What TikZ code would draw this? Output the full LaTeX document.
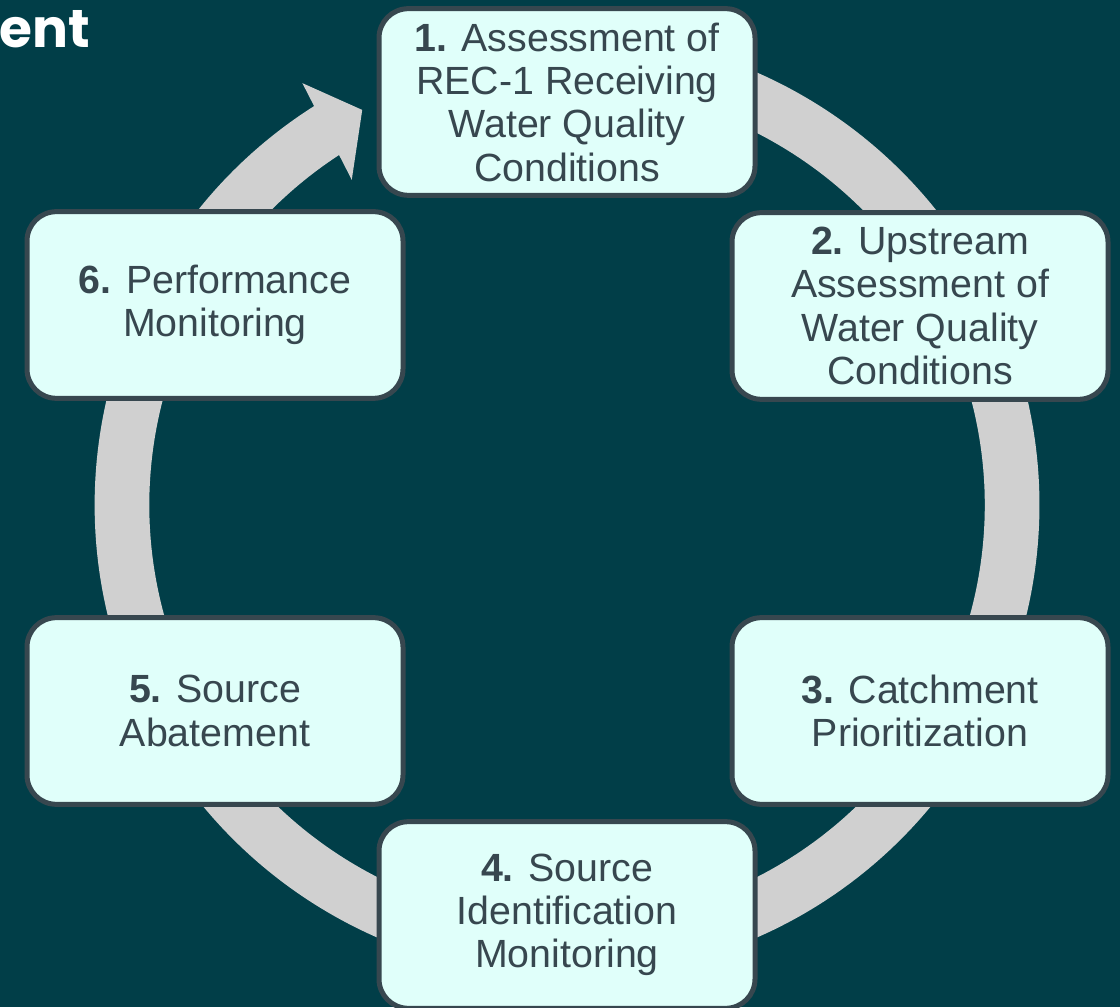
\documentclass[tikz,border=0pt]{standalone}
\usepackage{fontspec}
\setmainfont{Liberation Sans}
\newfontfamily\titlefont{Poppins}
\definecolor{bgteal}{RGB}{1,62,72}
\definecolor{ringgrey}{RGB}{208,208,208}
\definecolor{boxfill}{RGB}{224,255,250}
\definecolor{boxline}{RGB}{55,71,79}
\begin{document}
\begin{tikzpicture}[x=0.75pt,y=0.75pt,
    stage/.style={draw=boxline, line width=3.75pt, fill=boxfill, rounded corners=22pt,
        minimum width=282pt, minimum height=140pt, align=center, text=boxline,
        font=\fontsize{29.5}{32.5}\selectfont},
    ring/.style={draw=ringgrey, line width=41pt}]
    \useasboundingbox (0,0) rectangle (1120,1007);
    \fill [bgteal] (0,0) rectangle (1120,1007);
    \node [anchor=base east, inner sep=0pt, text=white, font=\titlefont\bfseries\fontsize{40}{42}\selectfont] (title) at (90,959) {ent};
    \begin{scope}[shift={(567,502)}]
        \draw [ring] (108:445) arc [start angle=108, end angle=-237.8, radius=445];
        \fill [ringgrey] (117.4:445) -- (122.1:498) -- (123.5:390) -- cycle;
    \end{scope}
    \node [stage] (s1) at (567,905) {\textbf{1.} Assessment of\\REC-1 Receiving\\Water Quality\\Conditions};
    \node [stage] (s2) at (920,701) {\textbf{2.} Upstream\\Assessment of\\Water Quality\\Conditions};
    \node [stage] (s3) at (920,296) {\textbf{3.} Catchment\\Prioritization};
    \node [stage] (s4) at (567,92) {\textbf{4.} Source\\Identification\\Monitoring};
    \node [stage] (s5) at (215,296) {\textbf{5.} Source\\Abatement};
    \node [stage] (s6) at (215,702) {\textbf{6.} Performance\\Monitoring};
\end{tikzpicture}
\end{document}
